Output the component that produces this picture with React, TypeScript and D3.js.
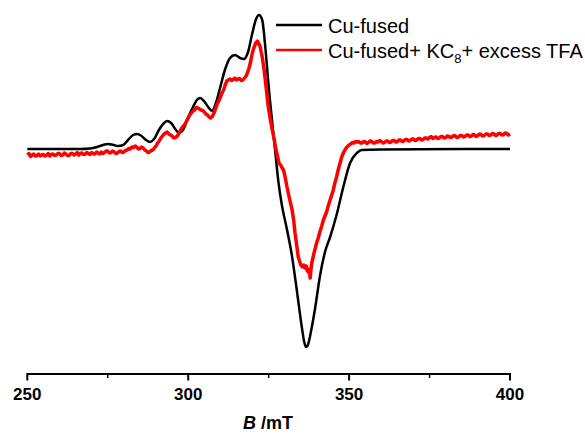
import { useEffect, useRef } from "react";
import * as d3 from "d3";

// field (mT) vs. EPR signal (arb. units)
const cuFused: [number, number][] = [
  [250, 0], [266.4, 0], [269.5, 0.5], [271.7, 2], [273.5, 4], [275.1, 5], [276.6, 4.2],
  [278.2, 3], [279.8, 4], [281.3, 9], [282.9, 14], [284.1, 15], [285.3, 13.5], [286.9, 9],
  [288.1, 7], [289.4, 10], [290.9, 19], [292.5, 26], [293.4, 28], [294.7, 26], [296.2, 19],
  [297.1, 16], [298.4, 19], [299.9, 31], [301.5, 42], [302.7, 49], [303.7, 51], [304.9, 48],
  [306.2, 42], [307.4, 38], [308.6, 46], [309.9, 61], [311.4, 79], [313.0, 91], [314.5, 94],
  [316.1, 91], [317.3, 90], [318.6, 97], [319.8, 114], [321.1, 130], [322.0, 134], [323.0, 129],
  [323.9, 104], [324.8, 70], [325.4, 49], [327.0, -1], [328.0, -32], [329.1, -56], [330.6, -79],
  [332.2, -106], [333.7, -140], [335.3, -178], [336.0, -192], [336.6, -198], [337.3, -195],
  [338.0, -185], [339.4, -160], [341.0, -126], [342.5, -103], [344.1, -88], [346.1, -66],
  [348.2, -38], [350.3, -14], [352.4, -4], [353.9, -1], [359.6, -0.5], [400, 0],
];

const cuFusedKC8TFA: [number, number][] = [
  [250, -6], [250.5, -4.5], [251, -7.5], [251.5, -6], [252, -5], [252.5, -7], [253, -6.5],
  [253.5, -5], [254, -7], [254.5, -6], [255, -5.5], [255.5, -7], [256, -6], [256.5, -4.5],
  [257, -7], [257.5, -5.5], [258, -5], [258.5, -6.5], [259, -6], [259.5, -4.5], [260, -4.5],
  [260.5, -6.5], [261, -6], [261.5, -4], [262, -5], [262.5, -6.5], [263, -6.5], [263.5, -4.5],
  [264, -4.5], [264.5, -6], [265, -5], [265.5, -3.5], [266, -6], [266.5, -4.5], [267, -4],
  [267.5, -5.5], [268, -5], [268.5, -3.5], [269, -4.5], [269.5, -5.5], [270, -3.5], [270.5, -4.5],
  [271, -5], [271.5, -3], [272, -4], [272.5, -5], [273, -3], [273.5, -4.5], [274, -3.5],
  [274.5, -2], [275, -2], [275.5, -4], [276, -3.5], [276.5, -2], [277, -3], [277.5, -4.5],
  [278, -4], [278.5, -2.5], [279, -2], [279.5, -3.5], [280, -3], [280.5, -1.5], [281, -1],
  [281.5, 0.5], [282, 0], [282.5, 2], [283, 1.5], [283.5, 3], [284, 2], [284.5, 0], [285, 0.5],
  [285.5, 2], [286, 1], [286.5, -1], [287, -2], [287.5, -3.5], [288, -3], [288.5, -1.5],
  [289, -1], [289.5, 1], [290, 3], [290.5, 6], [291, 8], [291.5, 11], [292, 13], [292.5, 15],
  [293, 16], [293.5, 17], [294, 15], [294.5, 14], [295, 13], [295.5, 11], [296, 11.5],
  [296.5, 12.5], [297, 15], [297.5, 18], [298, 21], [298.5, 23], [299, 25], [299.5, 28],
  [300, 31], [300.5, 34], [301, 36], [301.5, 38], [302, 39], [302.5, 41.5], [303, 41],
  [303.5, 40], [304, 39], [304.5, 38.5], [305, 37], [305.5, 35], [306, 34], [306.5, 32],
  [307, 31], [307.5, 32.5], [308, 36], [308.5, 40], [309, 45], [309.5, 48], [310, 52],
  [310.5, 56], [311, 59], [311.5, 64], [312, 68], [312.5, 69], [313, 70], [313.5, 68.5],
  [314, 69.5], [314.5, 71], [315, 69], [315.5, 70], [316, 70.5], [316.5, 68.5], [317, 69],
  [317.5, 71], [318, 73], [318.5, 77], [319, 82], [319.5, 89], [320, 97], [320.5, 102],
  [321, 106], [321.5, 108], [322.3, 103], [323, 92], [323.6, 79], [324.2, 62], [324.8, 44],
  [325.4, 32], [326, 21], [326.7, 10], [327.3, -1], [327.8, -8], [328.2, -14], [328.7, -16],
  [329.2, -19], [329.6, -21], [330, -26], [330.7, -38], [331.1, -44], [331.5, -50], [332.3, -61],
  [332.8, -72], [333.2, -84], [333.7, -96], [334.2, -108], [334.6, -112], [335, -116],
  [335.5, -118], [335.9, -116], [336.3, -119], [336.7, -117], [337, -122], [337.3, -120],
  [337.5, -124], [337.7, -121], [337.9, -129], [338.1, -122], [338.4, -114], [339.1, -104],
  [339.9, -94], [340.4, -89], [341, -82], [341.5, -77], [342, -71], [342.5, -67], [343, -63],
  [343.5, -57], [344.1, -51], [344.5, -47], [345, -42], [345.5, -35], [346.1, -28], [346.6, -21],
  [347.2, -14], [347.7, -8], [348.2, -4], [348.7, -1], [349.3, 2], [349.8, 3.5], [350.5, 5],
  [351, 6.5], [351.5, 6], [352, 7.5], [352.5, 7], [353, 7.5], [353.5, 6], [354, 6], [354.5, 7.5],
  [355, 7], [355.5, 5.5], [356, 6.5], [356.5, 8], [357, 7.5], [357.5, 6], [358, 6], [358.5, 7.5],
  [359, 7], [359.5, 8.5], [360, 7.5], [360.5, 6], [361, 6.5], [361.5, 8], [362, 8], [362.5, 6.5],
  [363, 7], [363.5, 8.5], [364, 8.5], [364.5, 7], [365, 7.5], [365.5, 9], [366, 9], [366.5, 7.5],
  [367, 8], [367.5, 9.5], [368, 9.5], [368.5, 8], [369, 8.5], [369.5, 10], [370, 10],
  [370.5, 8.5], [371, 9], [371.5, 10.5], [372, 10.5], [372.5, 9], [373, 9.5], [373.5, 11],
  [374, 11], [374.5, 10], [375, 11.5], [375.5, 12.5], [376, 10.5], [376.5, 11.5], [377, 12],
  [377.5, 10.5], [378, 11], [378.5, 12.5], [379, 12.5], [379.5, 11], [380, 11.5], [380.5, 13],
  [381, 12.5], [381.5, 11.5], [382, 12], [382.5, 13.5], [383, 13], [383.5, 11.5], [384, 12],
  [384.5, 13.5], [385, 13.5], [385.5, 12], [386, 12.5], [386.5, 14], [387, 14], [387.5, 12.5],
  [388, 13], [388.5, 14.5], [389, 14], [389.5, 12.5], [390, 13.5], [390.5, 15], [391, 14.5],
  [391.5, 13], [392, 13.5], [392.5, 15], [393, 15], [393.5, 13.5], [394, 14], [394.5, 15.5],
  [395, 15], [395.5, 13.5], [396, 14], [396.5, 15.5], [397, 15.5], [397.5, 14], [398, 14.5],
  [398.5, 16], [399, 15.5], [399.5, 14], [400, 15],
];

const majorTicks = [250, 300, 350, 400];
const minorTicks = [275, 325, 375];

const FONT = "'Liberation Sans', Arial, sans-serif";

export default function App() {
  const svgRef = useRef<SVGSVGElement>(null);

  useEffect(() => {
    const svg = d3.select(svgRef.current);
    svg.selectAll("*").remove();

    const x = d3.scaleLinear().domain([250, 400]).range([27.3, 510]);
    const y = d3.scaleLinear().domain([-200, 140]).range([349, 9]);
    const axisY = 374;

    const blackLine = d3.line<[number, number]>()
      .x(d => x(d[0]))
      .y(d => y(d[1]))
      .curve(d3.curveMonotoneX);

    const redLine = d3.line<[number, number]>()
      .x(d => x(d[0]))
      .y(d => y(d[1]))
      .curve(d3.curveLinear);

    svg.append("path")
      .attr("d", blackLine(cuFused))
      .attr("fill", "none")
      .attr("stroke", "#000")
      .attr("stroke-width", 2.5);

    svg.append("path")
      .attr("d", redLine(cuFusedKC8TFA))
      .attr("fill", "none")
      .attr("stroke", "#ff0000")
      .attr("stroke-width", 3.5)
      .attr("stroke-linejoin", "round");

    // x axis
    const axis = svg.append("g");
    axis.append("line")
      .attr("x1", x(250)).attr("x2", x(400))
      .attr("y1", axisY).attr("y2", axisY)
      .attr("stroke", "#000").attr("stroke-width", 2);

    axis.selectAll(".major")
      .data(majorTicks)
      .enter()
      .append("line")
      .attr("x1", d => x(d)).attr("x2", d => x(d))
      .attr("y1", axisY - 1).attr("y2", axisY + 6.5)
      .attr("stroke", "#000").attr("stroke-width", 2);

    axis.selectAll(".minor")
      .data(minorTicks)
      .enter()
      .append("line")
      .attr("x1", d => x(d)).attr("x2", d => x(d))
      .attr("y1", axisY).attr("y2", axisY + 4)
      .attr("stroke", "#000").attr("stroke-width", 1.5);

    axis.selectAll(".lbl")
      .data(majorTicks)
      .enter()
      .append("text")
      .attr("x", d => x(d))
      .attr("y", 400)
      .attr("text-anchor", "middle")
      .style("font-family", FONT)
      .style("font-size", "17px")
      .style("font-weight", "bold")
      .text(d => d);

    const title = svg.append("text")
      .attr("x", 268)
      .attr("y", 429)
      .attr("text-anchor", "middle")
      .style("font-family", FONT)
      .style("font-size", "18px")
      .style("font-weight", "bold");
    title.append("tspan").style("font-style", "italic").text("B");
    title.append("tspan").text(" /mT");

    // legend
    const legend = svg.append("g");
    const rows = [
      { color: "#000", y: 25 },
      { color: "#ff0000", y: 50 },
    ];
    legend.selectAll("line")
      .data(rows)
      .enter()
      .append("line")
      .attr("x1", 276).attr("x2", 322)
      .attr("y1", d => d.y).attr("y2", d => d.y)
      .attr("stroke", d => d.color)
      .attr("stroke-width", 2.5);

    legend.append("text")
      .attr("x", 328).attr("y", 33)
      .style("font-family", FONT)
      .style("font-size", "20px")
      .text("Cu-fused");

    const t2 = legend.append("text")
      .attr("x", 328).attr("y", 58)
      .style("font-family", FONT)
      .style("font-size", "20px");
    t2.append("tspan").text("Cu-fused+ KC");
    t2.append("tspan").attr("dy", 5).style("font-size", "13px").text("8");
    t2.append("tspan").attr("dy", -5).text("+ excess TFA");
  }, []);

  return (
    <svg
      ref={svgRef}
      width={585}
      height={434}
      style={{ position: "absolute", left: 0, top: 0, background: "#fff" }}
    />
  );
}
